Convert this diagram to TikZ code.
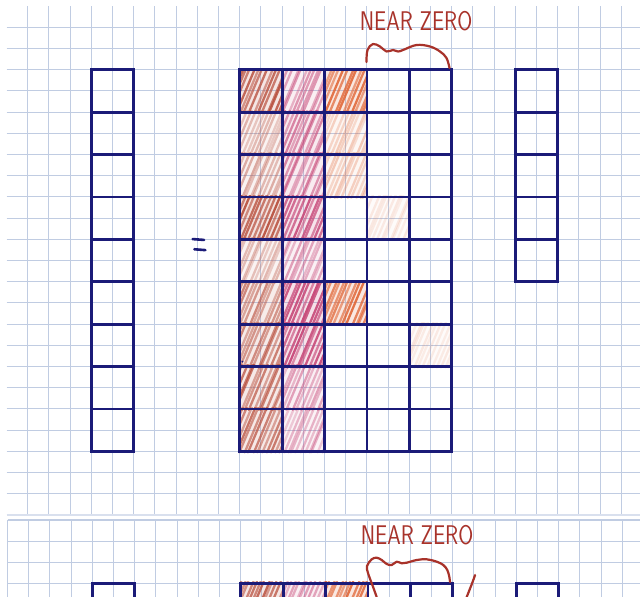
\documentclass[tikz,border=0pt]{standalone}
\usepackage{graphicx}
\usepackage{tikz}
\definecolor{ink}{HTML}{1B1B78}
\definecolor{gridblue}{HTML}{C0CCE2}
\definecolor{pen}{HTML}{A8322A}
\definecolor{rust}{HTML}{B84E3C}
\definecolor{rose}{HTML}{C74878}
\definecolor{tang}{HTML}{E06434}
\def\gridpt{21.2pt}
\tikzset{
  gridline/.style={gridblue, line width=1.1pt},
  edgeline/.style={gridblue!60, line width=2pt},
  boxline/.style={ink, line width=2.8pt},
  penline/.style={pen, line width=2.2pt, line cap=round, line join=round},
}
% one hatched cell of the middle matrix: column, row, colour, strength
\newcommand{\hatchcell}[4]{%
  \begin{scope}
    \clip (11+2*#1-0.06,3+2*#2-0.08) rectangle ++(2.1,2.16);
    \fill[color=#3, opacity=0.16*#4] (11+2*#1,3+2*#2) rectangle ++(2,2);
    \foreach \k in {0,...,15}{
      \pgfmathsetmacro{\strokeop}{#4*(0.6+0.4*rnd)}
      \pgfmathsetmacro{\strokedx}{0.08*rand}
      \draw[color=#3, opacity=\strokeop, line width=2.3pt, line cap=round]
        (11+2*#1-0.95+0.2*\k+\strokedx,3+2*#2+2.05) -- ++(0.9,-2.15);
    }
  \end{scope}}
\newcommand{\drawsheet}{%
  \foreach \i in {1,...,29} \draw[gridline] (\i,0) -- (\i,24);
  \foreach \j in {1,...,23} \draw[gridline] (0,\j) -- (30,\j);
  \draw[edgeline] (0,24) -- (30,24);
  \foreach \c/\r/\col/\v in {0/0/rust/0.85, 1/0/rose/0.55, 2/0/tang/0.9,
      0/1/rust/0.4, 1/1/rose/0.7, 2/1/tang/0.32,
      0/2/rust/0.45, 1/2/rose/0.65, 2/2/tang/0.32,
      0/3/rust/1, 1/3/rose/0.9, 3/3/tang/0.14,
      0/4/rust/0.4, 1/4/rose/0.5,
      0/5/rust/0.65, 1/5/rose/1, 2/5/tang/0.9,
      0/6/rust/0.7, 1/6/rose/0.95, 4/6/tang/0.14,
      0/7/rust/0.75, 1/7/rose/0.5,
      0/8/rust/0.75, 1/8/rose/0.4}
    \hatchcell{\c}{\r}{\col}{\v};
  % vectors and matrix
  \foreach \r in {0,...,8} \draw[boxline] (4,3+2*\r) rectangle ++(2,2);
  \foreach \r in {0,...,8}
    \foreach \c in {0,...,4} \draw[boxline] (11+2*\c,3+2*\r) rectangle ++(2,2);
  \foreach \r in {0,...,4} \draw[boxline] (24,3+2*\r) rectangle ++(2,2);
  \fill[ink] (11.13,16.77) circle (1pt);
  \draw[ink, line width=2.6pt, line cap=round] (8.78,10.99) -- (9.32,11.03)
    (8.86,11.47) -- (9.38,11.51);
  \node[text=pen, font=\sffamily\fontsize{27}{27}\selectfont] (nz) at (19.32,0.72)
    {\scalebox{0.8}[1]{NEAR ZERO}};
}

\begin{document}
\begin{tikzpicture}[x=1pt, y=-1pt]
  \pgfmathsetseed{3}
  \useasboundingbox (0,0) rectangle (640,597);
  \clip (0,0) rectangle (640,597);
  \fill[white] (0,0) rectangle (640,597);
  \begin{scope}[shift={(6.5,6.1)}, x=\gridpt, y=-\gridpt]
    \drawsheet
  \end{scope}
  \begin{scope}[shift={(7.5,520)}, x=\gridpt, y=-\gridpt]
    \draw[gridline] (0,0) -- (30,0) (0,0) -- (0,24);
    \drawsheet
  \end{scope}
  % braces under the labels
  \draw[penline] plot[smooth, tension=0.6] coordinates {(366.5,62) (367.5,50)
    (373,44) (380,46.5) (386.5,51.5) (393,50) (398,51.5) (403,50) (416.5,45)
    (430,46.5) (440,51.5) (446.5,58) (449.5,68)};
  \draw[penline] plot[smooth, tension=0.6] coordinates {(376.7,597) (373,586.7)
    (368,573) (367,566) (371.7,559.3) (376.7,557.7) (381.7,560) (386.7,564)
    (391.7,565) (396.7,561.7) (401.7,563.3) (406.7,562.7) (416.7,560)
    (426.7,559.3) (436.7,561.7) (443.3,565) (447.3,570) (449.3,576.7) (450,582)};
  \draw[penline] plot[smooth, tension=0.6] coordinates {(475,575) (472.7,581.7)
    (466.7,597)};
\end{tikzpicture}
\end{document}
